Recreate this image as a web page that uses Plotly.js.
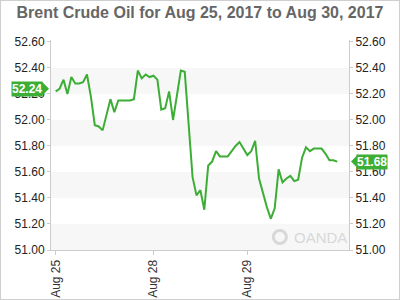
<!DOCTYPE html>
<html>
<head>
<meta charset="utf-8">
<script src="https://cdn.plot.ly/plotly-3.0.1.min.js"></script>
<style>
html,body{margin:0;padding:0;background:#fff;}
#wrap{position:relative;width:400px;height:300px;}
#chart{position:absolute;left:0;top:0;width:400px;height:300px;}
#frame{position:absolute;left:0;top:0;width:400px;height:300px;box-sizing:border-box;border:1px solid #cfcfcf;pointer-events:none;}
</style>
</head>
<body>
<div id="wrap"><div id="chart"></div><div id="frame"></div></div>
<script>
// hour index since Aug 25 00:00 (trading hours only)
const hours = [];
for (let i = 0; i <= 72; i++) hours.push(i);
const prices = [
  52.22, 52.24, 52.31, 52.20, 52.33, 52.28, 52.28, 52.29, 52.35, 52.18,
  51.96, 51.95, 51.92, 52.05, 52.16, 52.06, 52.15, 52.15, 52.15, 52.15,
  52.16, 52.38, 52.32, 52.35, 52.33, 52.34, 52.31, 52.08, 52.09, 52.22,
  52.00, 52.18, 52.38, 52.37, 51.95, 51.56, 51.42, 51.46, 51.31, 51.65,
  51.68, 51.76, 51.72, 51.72, 51.72, 51.76, 51.80, 51.83, 51.78, 51.73,
  51.76, 51.84, 51.55, 51.43, 51.33, 51.24, 51.32, 51.62, 51.52, 51.55,
  51.57, 51.53, 51.54, 51.71, 51.79, 51.76, 51.78, 51.78, 51.78, 51.74,
  51.69, 51.69, 51.68
];
const tickHours = [0, 25, 49];
const tickLabels = ['Aug 25', 'Aug 28', 'Aug 29'];
const yTicks = [51.0, 51.2, 51.4, 51.6, 51.8, 52.0, 52.2, 52.4, 52.6];
const bands = [[51.0, 51.2], [51.4, 51.6], [51.8, 52.0], [52.2, 52.4]];
const openTag = 52.24;
const lastTag = prices[prices.length - 1];

const green = '#3dae35';
const yRange = [51.0, 52.615];
const fontFam = '"Liberation Sans", Arial, sans-serif';

const traces = [
  {x: hours, y: prices, type: 'scatter', mode: 'lines',
   line: {color: green, width: 2}, hoverinfo: 'skip'},
  {x: hours, y: prices, type: 'scatter', mode: 'lines', yaxis: 'y2',
   line: {color: 'rgba(0,0,0,0)', width: 0}, hoverinfo: 'skip'}
];

const shapes = bands.map(b => ({
  type: 'rect', xref: 'paper', yref: 'y', x0: 0, x1: 1, y0: b[0], y1: b[1],
  fillcolor: '#f7f7f7', line: {width: 0}, layer: 'below'
}));
shapes.push({type: 'path', xref: 'paper', yref: 'y', xsizemode: 'pixel', ysizemode: 'pixel',
  xanchor: 0, yanchor: openTag, path: 'M -9 -7 L -2 0 L -9 7 Z',
  fillcolor: green, line: {width: 0}});
shapes.push({type: 'path', xref: 'paper', yref: 'y', xsizemode: 'pixel', ysizemode: 'pixel',
  xanchor: 1, yanchor: lastTag, path: 'M 9 -7 L 2 0 L 9 7 Z',
  fillcolor: green, line: {width: 0}});
shapes.push({type: 'circle', xref: 'paper', yref: 'y', xsizemode: 'pixel', ysizemode: 'pixel',
  xanchor: 0.768, yanchor: 51.10, x0: -6.5, x1: 6.5, y0: -6.5, y1: 6.5,
  fillcolor: 'rgba(0,0,0,0)', line: {color: '#d8d8d8', width: 3}});

const layout = {
  width: 400, height: 300,
  margin: {l: 51, r: 51, t: 40, b: 50, pad: 0},
  paper_bgcolor: '#fff', plot_bgcolor: '#fff',
  showlegend: false,
  font: {family: fontFam, size: 12, color: '#222'},
  title: {text: 'Brent Crude Oil for Aug 25, 2017 to Aug 30, 2017',
    font: {family: fontFam, size: 16, color: '#666', weight: 'bold'},
    x: 0.5, xanchor: 'center', y: 0.958, yanchor: 'middle'},
  xaxis: {range: [-1.2, 75], tickvals: tickHours, ticktext: tickLabels, tickangle: -90,
    showgrid: false, zeroline: false, showline: true, linecolor: '#cccccc', linewidth: 1,
    ticks: 'outside', ticklen: 4, tickcolor: '#cccccc',
    tickfont: {family: fontFam, size: 12, color: '#333'}},
  yaxis: {range: yRange, tickvals: yTicks, ticktext: yTicks.map(v => v.toFixed(2)),
    showgrid: false, zeroline: false, showline: true, linecolor: '#cccccc', linewidth: 1,
    ticks: 'outside', ticklen: 3, tickcolor: '#cccccc',
    tickfont: {family: fontFam, size: 12, color: '#222'}},
  yaxis2: {range: yRange, tickvals: yTicks, ticktext: yTicks.map(v => v.toFixed(2)),
    overlaying: 'y', side: 'right',
    showgrid: false, zeroline: false, showline: true, linecolor: '#cccccc', linewidth: 1,
    ticks: 'outside', ticklen: 3, tickcolor: '#cccccc',
    tickfont: {family: fontFam, size: 12, color: '#222'}},
  shapes: shapes,
  annotations: [
    {xref: 'paper', yref: 'y', x: -0.027, y: openTag, xanchor: 'right', yanchor: 'middle',
     text: openTag.toFixed(2), showarrow: false, bgcolor: green, borderpad: 0,
     font: {family: fontFam, size: 12, color: '#fff', weight: 'bold'}},
    {xref: 'paper', yref: 'y', x: 1.024, y: lastTag, xanchor: 'left', yanchor: 'middle',
     text: lastTag.toFixed(2), showarrow: false, bgcolor: green, borderpad: 0,
     font: {family: fontFam, size: 12, color: '#fff', weight: 'bold'}},
    {xref: 'paper', yref: 'y', x: 0.903, y: 51.10, xanchor: 'center', yanchor: 'middle',
     text: 'OANDA', showarrow: false,
     font: {family: fontFam, size: 15, color: '#d8d8d8'}}
  ]
};

Plotly.newPlot('chart', traces, layout, {displayModeBar: false, staticPlot: true});
</script>
</body>
</html>
